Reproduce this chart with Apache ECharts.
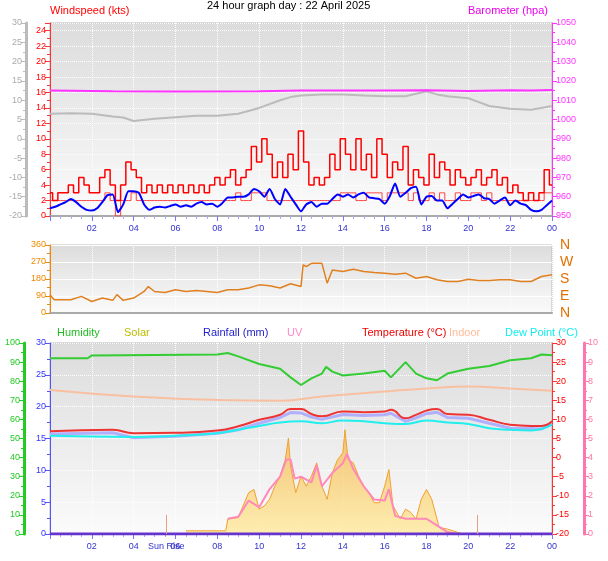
<!DOCTYPE html>
<html><head><meta charset="utf-8">
<script src="https://cdn.jsdelivr.net/npm/echarts@6/dist/echarts.min.js"></script>
<style>html,body{margin:0;padding:0;background:#fff}#c{width:608px;height:561px}</style>
</head><body><div id="c"></div>
<script>
// ---------- DATA ----------
const gustKts = [3,2,3,3,4,3,5,4,3,3,5,6,4,2,4,7,6,5,3,4,3,4,3,4,3,4,3,4,3,4,3,4,5,4,5,6,4,5,6,9,7,10,8,5,7,5,8,6,11,7,4,5,4,5,8,6,10,8,6,10,6,8,5,10,8,5,7,6,9,4,6,5,4,8,5,7,6,4,6,5,4,5,6,4,5,6,4,5,3,4,3,2,3,2,3,6,4];
const lullKts = [2,2,2,2,2,2,2,2,2,2,2,3,2,0,2,2,3,2,2,2,2,2,2,2,2,2,2,2,2,2,2,2,2,2,2,2,3,2,2,3,3,3,2,2,2,2,2,2,2,2,2,2,2,2,2,2,3,3,3,2,2,3,3,3,2,3,3,3,3,2,3,2,2,3,2,3,2,2,3,2,2,3,3,2,3,2,2,2,2,2,2,2,2,2,2,3,3];
const avgKts = [1,1.2,1.5,1.8,2.2,1.8,1.2,0.8,0.7,1,1.8,2.7,2.8,0.5,1.5,3.2,3.2,3,1.5,0.8,1.1,1.2,1.1,1.3,1.5,1.2,1.4,1.2,1.6,1.8,1.5,1.6,1.2,1.7,2.4,2.4,2.5,2.5,2.8,3.5,3.2,2.5,3.5,2.2,1.5,3.5,2.5,1.5,0.6,1.5,1.8,1.2,1.6,1.6,2.2,2.8,2.5,2.8,2.4,2.8,3,2.4,2.3,2.2,1.6,2.6,4.2,2.5,3,3.6,3.8,1.5,2.5,2.6,2,2,1,1.6,2.2,2.8,2.4,2.6,2.8,2.3,2.2,1.6,2,2.4,1.4,2,1.6,1.4,0.8,0.6,0.8,1.4,2];
const baroHours = [0,2,3,6,10,12,16,18,20,22,23,24];
const baroHpa   = [1015,1014.8,1014.6,1014.5,1014.6,1015,1015,1015.2,1014.8,1015.2,1015,1015.3];
const greyHours = [0,1,2,3,3.5,4,5,6,7,8,9,10,11,11.5,12,13,14,15,16,17,18,18.5,19,20,20.5,21,22,23,24];
const greyVals  = [6.5,6.6,6.5,5.8,5.5,4.6,5.2,5.6,6,6,6.5,8,10,10.8,11.2,11.5,11.5,11.2,11,11,12.3,11.5,11,10.5,9.5,8.5,7.8,7.5,8.5];
const dirHours = [0,0.2,1,1.5,2,2.5,3,3.2,3.5,4,4.5,4.7,5,5.5,6,6.5,7,7.5,8,8.5,9,9.5,10,10.5,11,11.5,12,12.1,12.25,12.5,13,13.25,13.5,14,14.5,15,15.5,16,16.5,17,17.5,18,18.5,19,19.5,20,20.5,21,21.5,22,22.5,23,23.5,24];
const dirDeg   = [97,70,70,88,61,79,67,97,67,79,114,140,114,109,123,114,119,114,109,123,123,132,149,144,132,155,140,255,246,263,263,158,228,220,232,220,214,211,205,211,184,193,176,167,167,179,172,172,176,176,167,167,193,202];
const humHours = [0,1.8,2,8,8.5,9,10,11,11.5,12,12.5,13,13.2,13.5,14,15,16,16.3,17,17.5,18,18.5,19,20,21,22,23,23.5,24];
const humPct   = [92,92,93.5,94,94.8,93,89,86.5,82,78,81.5,84,87.5,85,83,84,85.5,82,90,84,81.5,80.5,84,86.5,88,91,92,94,93.6];
const tHours = [0,3,4,6,8,9,10,11,11.5,12,12.5,13,14,15,16,16.3,17,17.5,18,18.5,19,20,21,22,23,23.5,24];
const tempC  = [6.9,7.3,6.4,6.5,7.1,8.2,9.9,11.2,12.7,12.7,11.4,10.8,12.1,11.9,12.1,12.5,10.3,11.2,12.3,12.7,11.4,11.2,9.9,8.6,8.3,8.3,9.5];
const feelsC = [6.2,6.5,5.2,5.6,6.4,7.3,9,10.5,11.8,11.7,10.6,10,11.3,11,11.2,11.6,9.5,10.4,11.5,11.9,10.5,10.3,9,7.7,7.6,7.5,8.8];
const dHours = [0,4,6,8,9,10,11,12,13,14,15,16,17,18,19,20,21,22,23,24];
const dewC   = [5.7,5.4,5.7,6.4,7.3,8.3,9.2,9.5,9,9.7,9.5,9,8.8,9.7,9.2,8.8,7.7,7.3,7.1,8.6];
const inHours = [0,4,8,11,13,16,18,20,22,24];
const indoorC = [17.7,16,15.1,14.9,16,17.3,18.1,18.6,18.1,17.5];
const solarHours = [6.5,8.4,8.5,9,9.5,9.75,10,10.25,10.5,10.75,11,11.25,11.4,11.5,11.75,12,12.25,12.5,12.75,13,13.25,13.5,13.75,14,14.1,14.25,14.5,14.75,15,15.25,15.5,15.75,16,16.2,16.4,16.75,17,17.25,17.5,17.75,18,18.25,18.5,18.6,19,19.5,19.75];
const solarWm2   = [20,20,94,104,260,280,156,177,218,300,364,468,603,426,260,364,300,364,447,300,218,385,468,509,655,468,447,364,300,260,197,197,300,405,177,94,156,135,94,218,280,218,94,42,31,10,0];
const uvHours = [8.5,9,9.5,10,10.5,11,11.3,11.5,11.7,12,12.5,12.75,13,13.5,14,14.2,14.5,15,15.5,16,16.2,16.5,17,17.5,18,18.5,19,19.5];
const uvIdx   = [0.8,0.9,1.75,1.4,2.35,3,3.9,3.9,2.9,3,2.7,3.6,2.5,3.2,3.7,4.2,3.4,2.5,1.8,1.75,2.35,0.95,0.8,0.8,0.8,0.45,0.1,0];
const rainHours = [0,24];
const rainMm    = [0,0];
const sunEvents = [5.55,20.45];
const dirNames = ['N','E','S','W','N'];

// ---------- CHART ----------
const q = i => i*0.25;
const pairs = (xs, ys) => ys.map((v,i)=>[xs[i],v]);
const qpairs = ys => ys.map((v,i)=>[q(i),v]);
const F = 'Liberation Sans, Arial, sans-serif';
const bg = new echarts.graphic.LinearGradient(0,0,0,1,[{offset:0,color:'#dcdcdc'},{offset:1,color:'#fbfbfb'}]);
const L = 50, R = 56;
const grids = [
  {left:L,right:R,top:23,height:193,show:true,backgroundColor:bg,borderColor:'#bbb'},
  {left:L,right:R,top:245,height:68,show:true,backgroundColor:bg,borderColor:'#bbb'},
  {left:L,right:R,top:343,height:191,show:true,backgroundColor:bg,borderColor:'#bbb'}
];
const xa = (gi, show) => ({type:'value',gridIndex:gi,min:0,max:24,interval:2,
  axisLine:{show:true,lineStyle:{color:'#aaa',width:2}},
  axisTick:{show:show,lineStyle:{color:'#77f'}},minorTick:{show:show,splitNumber:4,lineStyle:{color:'#aaf'}},
  splitLine:{show:true,lineStyle:{color:'#fff',type:'dotted'}},
  axisLabel:{show:show,color:'#33c',fontSize:9,fontFamily:F,showMinLabel:false,
    formatter:v=>String(v%24).padStart(2,'0')}});
const ya = (gi,o) => Object.assign({type:'value',gridIndex:gi,position:'left',
  axisLine:{show:true,lineStyle:{color:o.c,width:o.w||1}},
  axisTick:{show:true,lineStyle:{color:o.c}},minorTick:{show:true,splitNumber:o.ms||2,lineStyle:{color:o.c}},
  splitLine:{show:false},
  axisLabel:{color:o.lc||o.c,fontSize:9,fontFamily:F,margin:4,formatter:v=>String(v)}},o.x);

const option = {
  animation:false,
  grid:grids,
  xAxis:[xa(0,true),xa(1,false),xa(2,true)],
  yAxis:[
    ya(0,{c:'#f33',lc:'#f00',x:{min:0,max:25,interval:2,splitLine:{show:true,lineStyle:{color:'#fff',type:'dotted'}},axisLabel:{color:'#f00',fontSize:9,fontFamily:F,margin:4,showMaxLabel:false}}}),
    ya(0,{c:'#bbb',w:3,lc:'#aaa',x:{min:-20,max:30,interval:5,offset:24}}),
    ya(0,{c:'#f3f',x:{min:950,max:1050,interval:10,position:'right'}}),
    ya(1,{c:'#e80',lc:'#e80',x:{min:0,max:360,interval:90,splitLine:{show:true,lineStyle:{color:'#fff'}}}}),
    ya(1,{c:'#fff',x:{min:0,max:360,interval:90,position:'right',axisLine:{show:false},axisTick:{show:false},minorTick:{show:false},
      axisLabel:{color:'#e07000',fontSize:14,fontFamily:F,margin:8,formatter:v=>dirNames[v/90]}}}),
    ya(2,{c:'#55f',lc:'#33f',x:{min:0,max:30,interval:5,splitLine:{show:true,lineStyle:{color:'#fff',type:'dotted'}}}}),
    ya(2,{c:'#2c2',w:3,lc:'#2c2',x:{min:0,max:100,interval:10,offset:26}}),
    ya(2,{c:'#f33',lc:'#f00',x:{min:-20,max:30,interval:5,position:'right'}}),
    ya(2,{c:'#f7a',w:3,lc:'#f7a',x:{min:0,max:10,interval:1,position:'right',offset:32}}),
    {type:'value',gridIndex:2,min:0,max:1200,show:false}
  ],
  graphic:[
    {type:'text',left:50,top:5,style:{text:'Windspeed (kts)',fill:'#f00',font:'11px '+F}},
    {type:'text',left:207,top:0,style:{text:'24 hour graph day : 22 April 2025',fill:'#000',font:'11px '+F}},
    {type:'text',right:60,top:5,style:{text:'Barometer (hpa)',fill:'#e0e',font:'11px '+F}},
    {type:'text',left:57,top:327,style:{text:'Humidity',fill:'#2b2',font:'11px '+F}},
    {type:'text',left:124,top:327,style:{text:'Solar',fill:'#bb0',font:'11px '+F}},
    {type:'text',left:203,top:327,style:{text:'Rainfall (mm)',fill:'#22c',font:'11px '+F}},
    {type:'text',left:287,top:327,style:{text:'UV',fill:'#f8c',font:'11px '+F}},
    {type:'text',left:362,top:327,style:{text:'Temperature (°C)',fill:'#e00',font:'11px '+F}},
    {type:'text',left:449,top:327,style:{text:'Indoor',fill:'#fb9',font:'11px '+F}},
    {type:'text',left:505,top:327,style:{text:'Dew Point (°C)',fill:'#1ee',font:'11px '+F}},
    {type:'text',left:148,top:542,style:{text:'Sun Rise',fill:'#33c',font:'9px '+F}}
  ],
  series:[
    {type:'line',xAxisIndex:0,yAxisIndex:1,data:pairs(greyHours,greyVals),symbol:'none',lineStyle:{color:'#bbb',width:2}},
    {type:'line',xAxisIndex:0,yAxisIndex:2,data:pairs(baroHours,baroHpa),symbol:'none',lineStyle:{color:'#f3f',width:2}},
    {type:'line',xAxisIndex:0,yAxisIndex:0,data:qpairs(lullKts),step:'middle',symbol:'none',lineStyle:{color:'#f44',width:1}},
    {type:'line',xAxisIndex:0,yAxisIndex:0,data:qpairs(gustKts),step:'middle',symbol:'none',lineStyle:{color:'#f00',width:1.5}},
    {type:'line',xAxisIndex:0,yAxisIndex:0,data:qpairs(avgKts),symbol:'none',smooth:0.2,lineStyle:{color:'#00f',width:2}},
    {type:'line',xAxisIndex:1,yAxisIndex:3,data:pairs(dirHours,dirDeg),symbol:'none',lineStyle:{color:'#e08020',width:1.5}},
    {type:'line',xAxisIndex:2,yAxisIndex:9,data:pairs(solarHours,solarWm2),symbol:'none',
      lineStyle:{color:'#f0a030',width:1},areaStyle:{color:new echarts.graphic.LinearGradient(0,0,0,1,[{offset:0,color:'#f5b040'},{offset:1,color:'#ffe890'}])}},
    {type:'line',xAxisIndex:2,yAxisIndex:8,data:pairs(uvHours,uvIdx),symbol:'none',lineStyle:{color:'#f8b',width:2}},
    {type:'line',xAxisIndex:2,yAxisIndex:5,data:pairs(rainHours,rainMm),symbol:'none',lineStyle:{color:'#63c',width:3},
      markLine:{symbol:'none',silent:true,label:{show:false},lineStyle:{color:'#e9a080',type:'solid',width:1},
        data:sunEvents.map(h=>[{coord:[h,0]},{coord:[h,3]}])}},
    {type:'line',xAxisIndex:2,yAxisIndex:6,data:pairs(humHours,humPct),symbol:'none',lineStyle:{color:'#3c3',width:2}},
    {type:'line',xAxisIndex:2,yAxisIndex:7,data:pairs(inHours,indoorC),symbol:'none',smooth:true,lineStyle:{color:'#f8c0a0',width:2}},
    {type:'line',xAxisIndex:2,yAxisIndex:7,data:pairs(tHours,feelsC),symbol:'none',lineStyle:{color:'#b0b0ff',width:3}},
    {type:'line',xAxisIndex:2,yAxisIndex:7,data:pairs(dHours,dewC),symbol:'none',smooth:true,lineStyle:{color:'#2ee',width:2}},
    {type:'line',xAxisIndex:2,yAxisIndex:7,data:pairs(tHours,tempC),symbol:'none',smooth:true,lineStyle:{color:'#e33',width:2}}
  ]
};
echarts.init(document.getElementById('c'),null,{renderer:'canvas'}).setOption(option);
</script></body></html>
